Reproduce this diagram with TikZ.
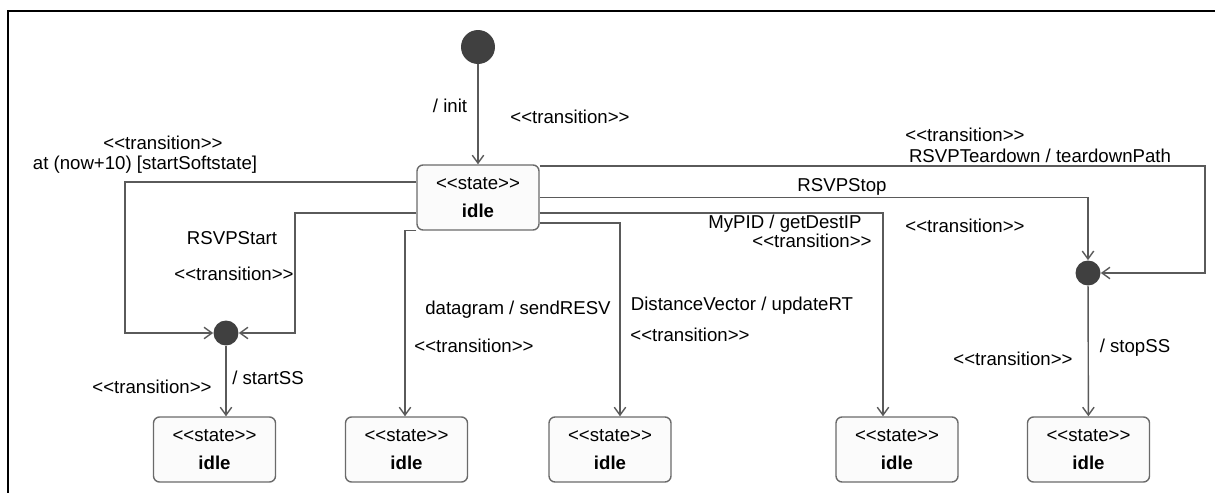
\documentclass[tikz,border=0pt]{standalone}
\usepackage{fontspec}
\setmainfont{Liberation Sans}
\usepackage{tikz}
\usetikzlibrary{arrows.meta,positioning,calc}

\definecolor{edgegray}{HTML}{5A5A5A}
\definecolor{dotgray}{HTML}{404040}
\definecolor{boxfill}{HTML}{FBFBFB}
\definecolor{boxline}{HTML}{6A6A6A}
\newcommand{\stereo}[1]{<{}<#1>{}>}

\begin{document}
\begin{tikzpicture}[x=0.02cm, y=-0.02cm,
  font=\fontsize{10.6}{12.7}\selectfont,
  statebox/.style={draw=boxline, fill=boxfill, rounded corners=0.12cm, line width=0.8pt,
    minimum width=2.44cm, minimum height=1.3cm, align=center, inner sep=0pt},
  initdot/.style={circle, fill=dotgray, minimum size=0.68cm, inner sep=0pt},
  joindot/.style={circle, fill=dotgray, minimum size=0.5cm, inner sep=0pt},
  tr/.style={draw=edgegray, line width=0.8pt, -{Straight Barb[length=4.5pt,width=6.5pt]}},
  lbl/.style={inner sep=0pt, text=black}]
\useasboundingbox (0,0) rectangle (1215,493);
% frame
\draw[line width=0.04cm] (8,493) -- (8,11) -- (1215,11);
% states
\node[initdot] (init) at (478,47) {};
\node[statebox] (s0) at (478,197.5) {\stereo{state}\\[0.1cm]\textbf{idle}};
\node[statebox] (b1) at (214.5,449.5) {\stereo{state}\\[0.1cm]\textbf{idle}};
\node[statebox] (b2) at (406.5,449.5) {\stereo{state}\\[0.1cm]\textbf{idle}};
\node[statebox] (b3) at (610,449.5) {\stereo{state}\\[0.1cm]\textbf{idle}};
\node[statebox] (b4) at (897,449.5) {\stereo{state}\\[0.1cm]\textbf{idle}};
\node[statebox] (b5) at (1088.5,449.5) {\stereo{state}\\[0.1cm]\textbf{idle}};
\node[joindot] (j1) at (226,333) {};
\node[joindot] (j2) at (1088,273) {};
% transitions
\draw[tr] (init) -- (s0);
\draw[tr] (s0.west) ++(0,-15.5) -| (125,333) -- (j1);
\draw[tr] (s0.west) ++(0,15.5) -| (295,333) -- (j1);
\draw[tr] (s0.south west) -| ([xshift=-0.03cm]b2.north);
\draw[tr] (s0.east) ++(0,25.5) -| ([xshift=0.2cm]b3.north);
\draw[tr] (s0.north east) ++(0,1.5) -| (1205,273) -- (j2);
\draw[tr] (s0.east) -| (j2);
\draw[tr] (s0.east) ++(0,15.5) -| ([xshift=-0.28cm]b4.north);
\draw[tr] (j1) -- (j1 |- b1.north);
\draw[tr] (j2) -- (b5);
% labels
\node[lbl] (lInit) at (450,106) {/ init};
\node[lbl] (lInitSt) at (570,117) {\stereo{transition}};
\node[lbl] (lSoftSt) at (163,143) {\stereo{transition}};
\node[lbl] (lSoft) at (145,165) {at (now+10) [startSoftstate]};
\node[lbl] (lStart) at (232,238) {RSVPStart};
\node[lbl] (lStartSt) at (234,274) {\stereo{transition}};
\node[lbl] (lSSst) at (152,387) {\stereo{transition}};
\node[lbl] (lSS) at (268,378) {/ startSS};
\node[lbl] (lData) at (518,310) {datagram / sendRESV};
\node[lbl] (lDataSt) at (474,346) {\stereo{transition}};
\node[lbl] (lDist) at (742,306) {DistanceVector / updateRT};
\node[lbl] (lDistSt) at (690,335) {\stereo{transition}};
\node[lbl] (lPid) at (785,224) {MyPID / getDestIP};
\node[lbl] (lPidSt) at (812,241) {\stereo{transition}};
\node[lbl] (lStop) at (842,187) {RSVPStop};
\node[lbl] (lTearSt) at (965,135) {\stereo{transition}};
\node[lbl] (lTear) at (1040,156) {RSVPTeardown / teardownPath};
\node[lbl] (lStopSt) at (965,226) {\stereo{transition}};
\node[lbl] (lSSstop) at (1013,359) {\stereo{transition}};
\node[lbl] (lStopSS) at (1135,348) {/ stopSS};
\end{tikzpicture}
\end{document}
